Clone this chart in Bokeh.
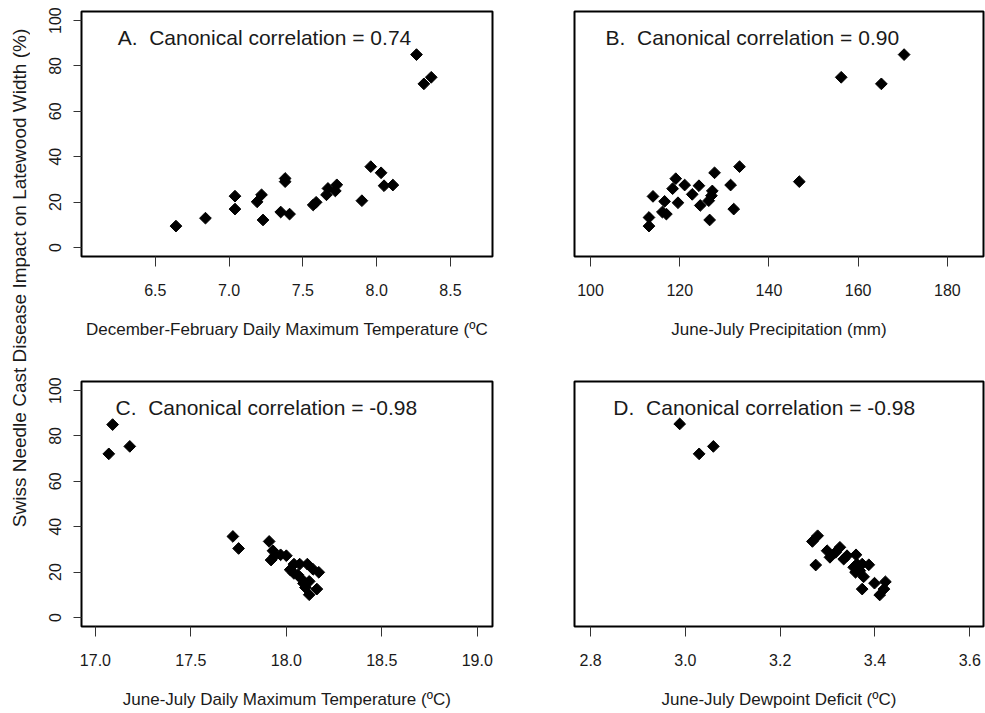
import numpy as np
from bokeh.plotting import figure
from bokeh.layouts import row, column
from bokeh.models import Range1d, FixedTicker, PrintfTickFormatter, Label
from bokeh.embed import file_html
from bokeh.resources import INLINE

FONT = "Liberation Sans"
TXT = "#1a1a1a"

y_ticks = [0, 20, 40, 60, 80, 100]
y_title = "Swiss Needle Cast Disease Impact on Latewood Width (%)"

# Panel A: December-February daily maximum temperature
a_x = [6.64, 6.84, 7.04, 7.04, 7.19, 7.22, 7.23, 7.38, 7.38, 7.35, 7.41, 7.57, 7.59,
       7.66, 7.67, 7.72, 7.73, 7.90, 7.96, 8.03, 8.05, 8.11, 8.27, 8.32, 8.37]
a_y = [9.4, 12.9, 22.6, 16.9, 20.1, 23.2, 12.1, 30.4, 29.0, 15.6, 14.7, 18.7, 19.9,
       23.2, 26.0, 24.9, 27.6, 20.6, 35.6, 32.9, 27.2, 27.5, 85.0, 72.1, 75.0]
a_ticks = [6.5, 7.0, 7.5, 8.0, 8.5]
a_label = "December-February Daily Maximum Temperature (ºC"
a_note = "A.\u00a0 Canonical correlation = 0.74"

# Panel B: June-July precipitation
b_x = [113.1, 113.1, 114.0, 116.1, 117.0, 116.6, 118.4, 119.1, 119.6, 121.1, 122.8, 124.3, 124.6,
       126.7, 126.5, 127.3, 127.1, 127.8, 131.4, 132.1, 133.4, 146.8, 156.2, 165.2, 170.3]
b_y = [9.4, 13.2, 22.5, 15.6, 14.7, 20.3, 25.9, 30.3, 19.7, 27.5, 23.4, 27.2, 18.5,
       12.1, 20.6, 24.9, 22.8, 32.9, 27.5, 16.9, 35.6, 29.0, 75.0, 72.1, 85.0]
b_ticks = [100, 120, 140, 160, 180]
b_label = "June-July Precipitation (mm)"
b_note = "B.\u00a0 Canonical correlation = 0.90"

# Panel C: June-July daily maximum temperature
c_x = [17.07, 17.09, 17.18, 17.72, 17.75, 17.91, 17.93, 17.92, 17.94, 17.97, 18.00, 18.04, 18.02,
       18.07, 18.11, 18.04, 18.06, 18.08, 18.09, 18.12, 18.12, 18.16, 18.17, 18.14, 18.10]
c_y = [72.1, 85.0, 75.4, 35.7, 30.4, 33.5, 29.4, 25.3, 27.2, 27.6, 27.2, 23.5, 21.0,
       23.5, 23.5, 19.4, 18.8, 16.9, 15.0, 15.9, 10.0, 12.5, 19.9, 21.2, 13.2]
c_ticks = [17.0, 17.5, 18.0, 18.5, 19.0]
c_label = "June-July Daily Maximum Temperature (ºC)"
c_note = "C.\u00a0 Canonical correlation = -0.98"

# Panel D: June-July dewpoint deficit
d_x = [2.988, 3.029, 3.059, 3.279, 3.268, 3.275, 3.299, 3.305, 3.317, 3.326, 3.334, 3.341, 3.360,
       3.355, 3.362, 3.373, 3.387, 3.359, 3.368, 3.376, 3.373, 3.399, 3.422, 3.419, 3.410]
d_y = [85.3, 72.1, 75.4, 36.0, 33.5, 23.1, 29.4, 26.5, 28.7, 30.9, 25.7, 27.2, 27.6,
       22.1, 23.5, 23.5, 23.2, 19.9, 20.6, 17.9, 12.5, 15.1, 15.7, 12.5, 9.9]
d_ticks = [2.8, 3.0, 3.2, 3.4, 3.6]
d_label = "June-July Dewpoint Deficit (ºC)"
d_note = "D.\u00a0 Canonical correlation = -0.98"


def panel(x, y, xr, ticks, fmt, xlabel, note, note_pos, show_y, w, h, bl, br, bt, bb):
    p = figure(width=w, height=h, output_backend="svg", toolbar_location=None,
               x_range=Range1d(*xr), y_range=Range1d(-4.0, 104.0),
               min_border_left=bl, min_border_right=br, min_border_top=bt, min_border_bottom=bb)
    p.background_fill_color = "white"
    p.border_fill_color = "white"
    p.outline_line_color = "black"
    p.outline_line_width = 2
    p.xgrid.visible = False
    p.ygrid.visible = False

    xa = p.xaxis[0]
    xa.ticker = FixedTicker(ticks=ticks)
    xa.formatter = PrintfTickFormatter(format=fmt)
    xa.axis_line_color = None
    xa.major_tick_out = 10
    xa.major_tick_in = 0
    xa.minor_tick_line_color = None
    xa.major_tick_line_color = "#333333"
    xa.major_label_standoff = 17
    xa.major_label_text_font = FONT
    xa.major_label_text_font_size = "16px"
    xa.major_label_text_color = TXT
    xa.axis_label = xlabel
    xa.axis_label_text_font = FONT
    xa.axis_label_text_font_size = "17px"
    xa.axis_label_text_font_style = "normal"
    xa.axis_label_text_color = TXT
    xa.axis_label_standoff = 21

    ya = p.yaxis[0]
    if show_y:
        ya.ticker = FixedTicker(ticks=y_ticks)
        ya.axis_line_color = None
        ya.major_tick_out = 8
        ya.major_tick_in = 0
        ya.minor_tick_line_color = None
        ya.major_tick_line_color = "#333333"
        ya.major_label_orientation = "vertical"
        ya.major_label_standoff = 12
        ya.major_label_text_font = FONT
        ya.major_label_text_font_size = "16px"
        ya.major_label_text_color = TXT
    else:
        ya.visible = False

    p.scatter(x, y, marker="square", angle=np.pi / 4, size=8.3,
              fill_color="black", line_color="black")
    p.add_layout(Label(x=note_pos[0], y=note_pos[1], text=note, text_font=FONT,
                       text_font_size="21px", text_color=TXT,
                       text_align="left", text_baseline="middle"))
    return p


pa = panel(a_x, a_y, (6.0, 8.785), a_ticks, "%.1f", a_label, a_note, (6.245, 92.5),
           True, 503, 370, 51, 41, 11, 114)
pb = panel(b_x, b_y, (96.4, 188.1), b_ticks, "%d", b_label, b_note, (103.35, 92.5),
           False, 452, 370, 41, 2, 11, 114)
pc = panel(c_x, c_y, (16.927, 19.08), c_ticks, "%.1f", c_label, c_note, (17.105, 92.6),
           True, 503, 343, 51, 41, 11, 87)
pd = panel(d_x, d_y, (2.766, 3.629), d_ticks, "%.1f", d_label, d_note, (2.848, 92.6),
           False, 452, 343, 41, 2, 11, 87)

# narrow strip holding the shared y-axis title
py = figure(width=30, height=713, output_backend="svg", toolbar_location=None,
            x_range=Range1d(0, 30), y_range=Range1d(0, 713),
            min_border_left=0, min_border_right=0, min_border_top=0, min_border_bottom=0)
py.axis.visible = False
py.grid.visible = False
py.outline_line_color = None
py.add_layout(Label(x=19, y=713 - 277.5, text=y_title, angle=np.pi / 2,
                    text_font=FONT, text_font_size="19px", text_color=TXT,
                    text_align="center", text_baseline="middle"))

layout = row(py, column(row(pa, pb), row(pc, pd)))

open("out.html", "w").write(file_html(layout, INLINE))
